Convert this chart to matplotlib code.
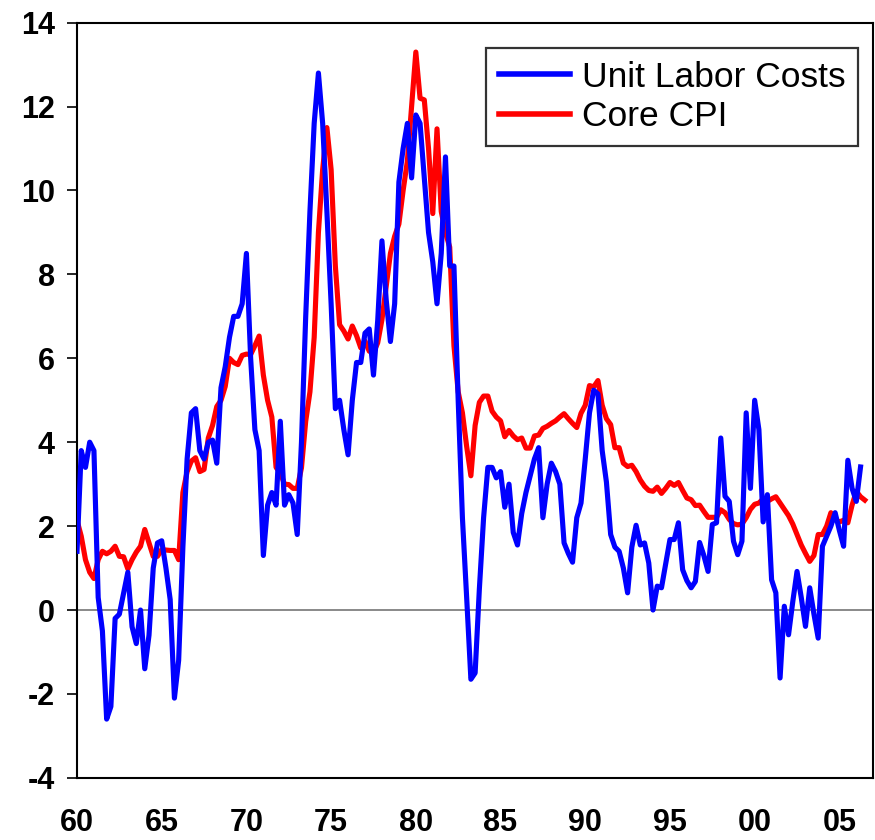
import numpy as np
import matplotlib
matplotlib.use('Agg')
from matplotlib import pyplot as plt

# Quarterly, y/y % change, starting 1960Q1
start_year = 1960

unit_labor_costs = [
    1.4, 3.8, 3.4, 4.0, 3.8, 0.3, -0.5, -2.6, -2.3, -0.2,
    -0.1, 0.4, 0.9, -0.4, -0.8, 0.0, -1.4, -0.6, 1.0, 1.6,
    1.65, 1.0, 0.25, -2.1, -1.2, 1.5, 3.6, 4.7, 4.8, 3.8,
    3.6, 4.0, 4.05, 3.5, 5.3, 5.8, 6.5, 7.0, 7.0, 7.3,
    8.5, 6.0, 4.3, 3.8, 1.3, 2.5, 2.8, 2.5, 4.5, 2.5,
    2.75, 2.55, 1.8, 4.0, 7.0, 9.5, 11.6, 12.8, 11.6, 9.5,
    7.3, 4.8, 5.0, 4.3, 3.7, 5.0, 5.9, 5.9, 6.6, 6.7,
    5.6, 6.9, 8.8, 7.4, 6.4, 7.3, 10.2, 11.0, 11.6, 10.3,
    11.8, 11.6, 10.3, 9.0, 8.3, 7.3, 8.5, 10.8, 8.2, 8.2,
    5.0, 2.2, 0.3, -1.65, -1.5, 0.5, 2.2, 3.4, 3.4, 3.15,
    3.3, 2.45, 3.0, 1.85, 1.55, 2.3, 2.8, 3.2, 3.6, 3.87,
    2.2, 3.0, 3.5, 3.3, 3.0, 1.6, 1.35, 1.14, 2.2, 2.55,
    3.6, 4.7, 5.24, 5.15, 3.8, 3.05, 1.8, 1.5, 1.4, 1.0,
    0.41, 1.5, 2.02, 1.55, 1.6, 1.12, 0.0, 0.57, 0.53, 1.1,
    1.68, 1.68, 2.08, 0.96, 0.7, 0.53, 0.68, 1.61, 1.3, 0.92,
    2.04, 2.08, 4.10, 2.71, 2.59, 1.64, 1.32, 1.64, 4.7, 2.9,
    5.0, 4.3, 2.1, 2.75, 0.72, 0.41, -1.62, 0.09, -0.59, 0.2,
    0.92, 0.3, -0.39, 0.53, -0.1, -0.67, 1.52, 1.76, 2.0, 2.32,
    1.9, 1.52, 3.57, 2.9, 2.59, 3.41,
]

core_cpi = [
    2.14, 1.76, 1.2, 0.9, 0.75, 1.2, 1.4, 1.34, 1.4, 1.52,
    1.28, 1.27, 0.98, 1.2, 1.38, 1.52, 1.92, 1.6, 1.28, 1.28,
    1.44, 1.43, 1.42, 1.42, 1.2, 2.8, 3.3, 3.55, 3.63, 3.3,
    3.35, 4.1, 4.4, 4.85, 5.0, 5.33, 6.0, 5.9, 5.85, 6.07,
    6.1, 6.09, 6.3, 6.53, 5.6, 5.0, 4.6, 3.4, 3.27, 3.0,
    2.99, 2.9, 2.9, 3.39, 4.5, 5.2, 6.5, 9.0, 10.5, 11.5,
    10.5, 8.2, 6.8, 6.65, 6.46, 6.77, 6.54, 6.25, 6.41, 6.17,
    6.13, 6.37, 6.92, 7.7, 8.5, 8.91, 9.2, 10.0, 10.7, 12.0,
    13.3, 12.2, 12.16, 11.0, 9.45, 11.47, 9.5, 9.0, 8.65, 6.3,
    5.2, 4.7, 3.9, 3.2, 4.4, 4.95, 5.1, 5.1, 4.74, 4.6,
    4.51, 4.13, 4.28, 4.15, 4.06, 4.1, 3.86, 3.86, 4.15, 4.17,
    4.33, 4.38, 4.45, 4.51, 4.6, 4.68, 4.56, 4.45, 4.35, 4.69,
    4.88, 5.35, 5.32, 5.47, 4.88, 4.56, 4.42, 3.87, 3.87, 3.5,
    3.42, 3.45, 3.3, 3.1, 2.95, 2.85, 2.83, 2.93, 2.78, 2.9,
    3.04, 2.97, 3.04, 2.85, 2.67, 2.63, 2.49, 2.5, 2.35, 2.21,
    2.21, 2.21, 2.39, 2.32, 2.16, 2.06, 2.03, 2.05, 2.2, 2.4,
    2.52, 2.55, 2.65, 2.59, 2.65, 2.7, 2.55, 2.4, 2.25, 2.05,
    1.8, 1.55, 1.35, 1.16, 1.3, 1.8, 1.8, 2.0, 2.32, 2.16,
    2.1, 2.14, 2.08, 2.5, 2.83, 2.7, 2.62,
]

xtick_years = [1960, 1965, 1970, 1975, 1980, 1985, 1990, 1995, 2000, 2005]
xtick_labels = ['60', '65', '70', '75', '80', '85', '90', '95', '00', '05']
yticks = [-4, -2, 0, 2, 4, 6, 8, 10, 12, 14]


def quarters(values):
    return start_year + np.arange(len(values)) / 4.0


plt.rcParams['font.family'] = ['Liberation Sans', 'DejaVu Sans']
plt.rcParams['axes.unicode_minus'] = False

fig = plt.figure(figsize=(8.75, 8.4), dpi=100)
ax = fig.add_axes([0.088, 0.074, 0.910, 0.899])

ax.axhline(0, color='#808080', lw=1.3, zorder=1)
ax.plot(quarters(unit_labor_costs), unit_labor_costs, color='#0000FF', lw=3.7,
        label='Unit Labor Costs', zorder=3)
ax.plot(quarters(core_cpi), core_cpi, color='#FF0000', lw=3.7,
        label='Core CPI', zorder=2)

ax.set_xlim(1960, 2007)
ax.set_ylim(-4, 14)
ax.set_xticks(xtick_years)
ax.set_xticklabels(xtick_labels)
ax.set_yticks(yticks)

ax.tick_params(axis='x', length=0, pad=22, labelsize=22)
ax.tick_params(axis='y', length=7, width=1.2, direction='out', pad=9, labelsize=22)
for lab in ax.get_xticklabels() + ax.get_yticklabels():
    lab.set_fontweight('bold')

for side in ['left', 'bottom', 'right', 'top']:
    ax.spines[side].set_color('black')
    ax.spines[side].set_linewidth(1.5)

leg = ax.legend(loc='upper right', bbox_to_anchor=(0.981, 0.966), borderaxespad=0,
                fontsize=25.5, frameon=True, fancybox=False, edgecolor='black',
                handlelength=2.0, handletextpad=0.35, labelspacing=0.18, borderpad=0.35)
leg.get_frame().set_linewidth(1.6)
for line in leg.get_lines():
    line.set_linewidth(4.0)

fig.savefig('out.png', dpi=100)
